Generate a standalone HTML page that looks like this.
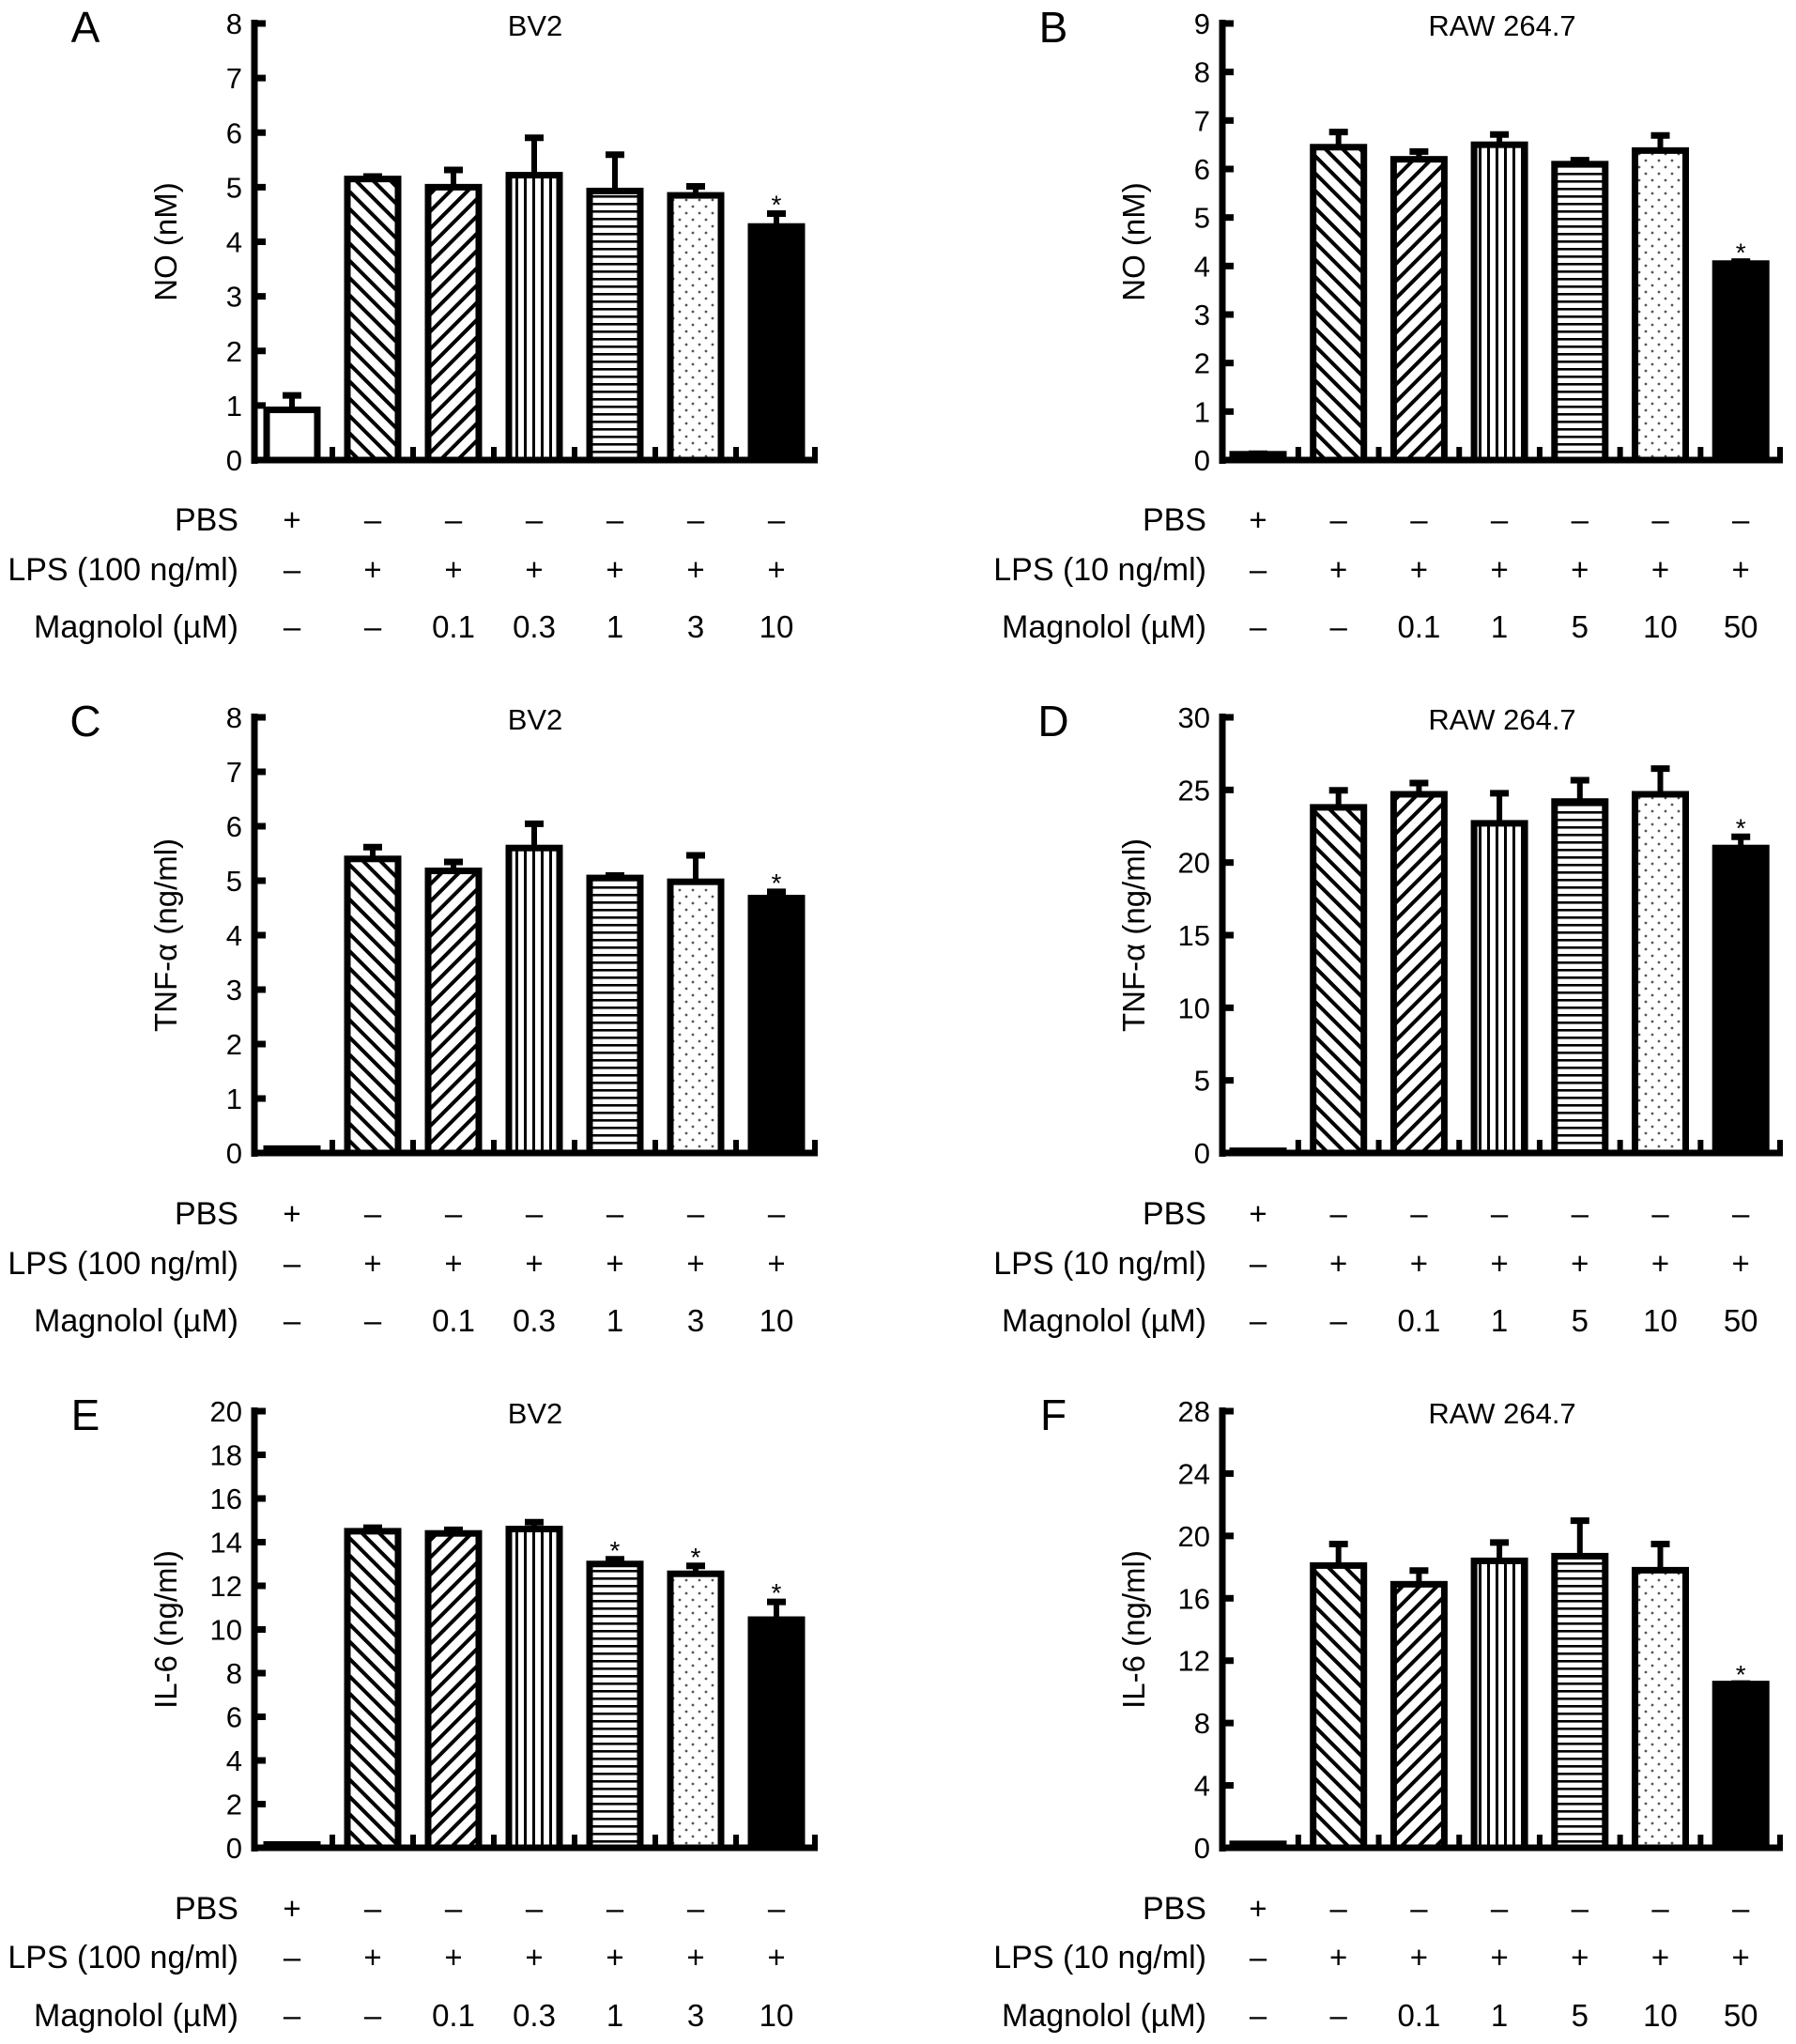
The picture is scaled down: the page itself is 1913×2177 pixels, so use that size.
<!DOCTYPE html>
<html><head><meta charset="utf-8"><style>
html,body{margin:0;padding:0;background:#fff;}
svg text{font-family:"Liberation Sans",sans-serif;fill:#000;}
</style></head><body>
<svg id="fig" width="1913" height="2172" viewBox="0 0 1913 2172" xmlns="http://www.w3.org/2000/svg">
<defs>
<pattern id="p-back" patternUnits="userSpaceOnUse" width="13" height="13" patternTransform="rotate(-45)"><rect width="13" height="13" fill="#fff"/><rect x="0" y="0" width="4" height="13" fill="#000"/></pattern>
<pattern id="p-fwd" patternUnits="userSpaceOnUse" width="13" height="13" patternTransform="rotate(45)"><rect width="13" height="13" fill="#fff"/><rect x="0" y="0" width="4" height="13" fill="#000"/></pattern>
<pattern id="p-vert" patternUnits="userSpaceOnUse" width="9" height="9"><rect width="9" height="9" fill="#fff"/><rect x="0" y="0" width="3" height="9" fill="#000"/></pattern>
<pattern id="p-horz" patternUnits="userSpaceOnUse" width="9" height="8"><rect width="9" height="8" fill="#fff"/><rect x="0" y="0" width="9" height="2.6" fill="#000"/></pattern>
<pattern id="p-dots" patternUnits="userSpaceOnUse" width="14" height="14"><rect width="14" height="14" fill="#fff"/><circle cx="3" cy="3" r="1.4" fill="#555"/><circle cx="10" cy="10" r="1.4" fill="#555"/></pattern>
</defs>
</svg>
<script>
const valuesA=[0.92,5.15,5.0,5.22,4.93,4.85,4.28];
const errorsA=[0.3,0.08,0.35,0.72,0.7,0.2,0.27];
const starsA=[0,0,0,0,0,0,1];
const valuesB=[0.12,6.45,6.2,6.5,6.1,6.38,4.05];
const errorsB=[0.05,0.35,0.2,0.25,0.12,0.35,0.08];
const starsB=[0,0,0,0,0,0,1];
const valuesC=[0.08,5.4,5.18,5.6,5.05,4.98,4.68];
const errorsC=[0.02,0.25,0.2,0.48,0.08,0.52,0.15];
const starsC=[0,0,0,0,0,0,1];
const valuesD=[0.15,23.8,24.7,22.7,24.2,24.7,21.0];
const errorsD=[0.05,1.3,0.9,2.2,1.6,1.9,0.9];
const starsD=[0,0,0,0,0,0,1];
const valuesE=[0.15,14.5,14.4,14.6,13.0,12.55,10.45];
const errorsE=[0.05,0.25,0.25,0.4,0.3,0.45,0.9];
const starsE=[0,0,0,0,1,1,1];
const valuesF=[0.25,18.1,16.9,18.4,18.7,17.8,10.5];
const errorsF=[0.05,1.5,1.0,1.3,2.4,1.8,0.15];
const starsF=[0,0,0,0,0,0,1];
const ticksA=[0,1,2,3,4,5,6,7,8];
const ticksB=[0,1,2,3,4,5,6,7,8,9];
const ticksC=[0,1,2,3,4,5,6,7,8];
const ticksD=[0,5,10,15,20,25,30];
const ticksE=[0,2,4,6,8,10,12,14,16,18,20];
const ticksF=[0,4,8,12,16,20,24,28];
const pbsRow=["+","–","–","–","–","–","–"];
const lpsRow=["–","+","+","+","+","+","+"];
const magBV2=["–","–","0.1","0.3","1","3","10"];
const magRAW=["–","–","0.1","1","5","10","50"];
const fills=["#fff","url(#p-back)","url(#p-fwd)","url(#p-vert)","url(#p-horz)","url(#p-dots)","#000"];

const svg=document.getElementById('fig');
const NS="http://www.w3.org/2000/svg";
function mk(tag,attrs,parent){const e=document.createElementNS(NS,tag);for(const k in attrs)e.setAttribute(k,attrs[k]);(parent||svg).appendChild(e);return e;}

function panel(o){
  const g=mk('g',{});
  
  
  const max=o.ticks[o.ticks.length-1];
  const y=v=>o.zero-(o.zero-o.top)*v/max;
  const cx=i=>o.c0+o.pitch*i;
  const L=mk('text',{x:o.ax-180,y:o.top+20,'font-size':46,'text-anchor':'middle'},g);L.textContent=o.letter;
  
  
  const T=mk('text',{x:o.titleX,y:o.top+13,'font-size':31,'text-anchor':'middle'},g);T.textContent=o.title;
  
  
  const ym=(o.top+o.zero)/2;
  const Y=mk('text',{x:o.ax-83,y:ym,'font-size':33,'text-anchor':'middle',transform:'rotate(-90 '+(o.ax-83)+' '+ym+')'},g);Y.textContent=o.ylabel;
  
  
  o.values.forEach((v,i)=>{
    const bw=54,x=cx(i)-bw/2,top=y(v);
    const e=o.errors[i];
    const ey=y(v+e);
    if(e>0){
      const el=mk('line',{x1:cx(i),x2:cx(i),y1:top,y2:ey,stroke:'#000','stroke-width':6},g);
      
      
      const cap=mk('line',{x1:cx(i)-10,x2:cx(i)+10,y1:ey+2,y2:ey+2,stroke:'#000','stroke-width':7},g);
      
      
    }
    const h=Math.max(o.zero-top,0.5);
    const r=mk('rect',{x:x,y:top,width:bw,height:h,fill:fills[i],stroke:'#000','stroke-width':7},g);
    
    
    if(o.stars[i]){
      const s=mk('text',{x:cx(i),y:ey+2,'font-size':28,'text-anchor':'middle'},g);s.textContent='*';
      
      
    }
  });
  const ya=mk('line',{x1:o.ax,x2:o.ax,y1:o.top-4,y2:o.zero+4,stroke:'#000','stroke-width':7},g);
  
  
  const xa=mk('line',{x1:o.ax-3,x2:o.right,y1:o.zero,y2:o.zero,stroke:'#000','stroke-width':7},g);
  
  
  o.ticks.forEach(t=>{
    const tk=mk('line',{x1:o.ax,x2:o.ax+12,y1:y(t),y2:y(t),stroke:'#000','stroke-width':7},g);
    
    
    const tl=mk('text',{x:o.ax-13,y:y(t)+11,'font-size':31,'text-anchor':'end'},g);tl.textContent=t;
    
    
  });
  for(let i=0;i<7;i++){
    const xx=i<6?cx(i)+o.pitch/2:o.right-3;
    const tk=mk('line',{x1:xx,x2:xx,y1:o.zero,y2:o.zero-14,stroke:'#000','stroke-width':6},g);
    
    
  }
  const rows=[[o.r1,'PBS',pbsRow],[o.r2,o.lps,lpsRow],[o.r3,'Magnolol (µM)',o.mag]];
  rows.forEach(([ry,lab,arr])=>{
    const t=mk('text',{x:o.labRight,y:ry+12,'font-size':34,'text-anchor':'end'},g);t.textContent=lab;
    
    
    arr.forEach((s,i)=>{
      const c=mk('text',{x:cx(i),y:ry+12,'font-size':33,'text-anchor':'middle'},g);c.textContent=s;
      
      
    });
  });
}
const left={ax:271,right:871,c0:311,pitch:86,titleX:570,labRight:254,lps:'LPS (100 ng/ml)',mag:magBV2,title:'BV2'};
const right={ax:1302,right:1899,c0:1340,pitch:85.7,titleX:1600,labRight:1285,lps:'LPS (10 ng/ml)',mag:magRAW,title:'RAW 264.7'};
const rowsTop={top:25,zero:490,r1:553,r2:606,r3:667};
const rowsMid={top:764,zero:1228,r1:1292,r2:1345,r3:1406};
const rowsBot={top:1503,zero:1968,r1:2032,r2:2084,r3:2146};
panel(Object.assign({},left,rowsTop,{letter:'A',ylabel:'NO (nM)',values:valuesA,errors:errorsA,stars:starsA,ticks:ticksA}));
panel(Object.assign({},right,rowsTop,{letter:'B',ylabel:'NO (nM)',values:valuesB,errors:errorsB,stars:starsB,ticks:ticksB}));
panel(Object.assign({},left,rowsMid,{letter:'C',ylabel:'TNF-α (ng/ml)',values:valuesC,errors:errorsC,stars:starsC,ticks:ticksC}));
panel(Object.assign({},right,rowsMid,{letter:'D',ylabel:'TNF-α (ng/ml)',values:valuesD,errors:errorsD,stars:starsD,ticks:ticksD}));
panel(Object.assign({},left,rowsBot,{letter:'E',ylabel:'IL-6 (ng/ml)',values:valuesE,errors:errorsE,stars:starsE,ticks:ticksE}));
panel(Object.assign({},right,rowsBot,{letter:'F',ylabel:'IL-6 (ng/ml)',values:valuesF,errors:errorsF,stars:starsF,ticks:ticksF}));
</script>
</body></html>
